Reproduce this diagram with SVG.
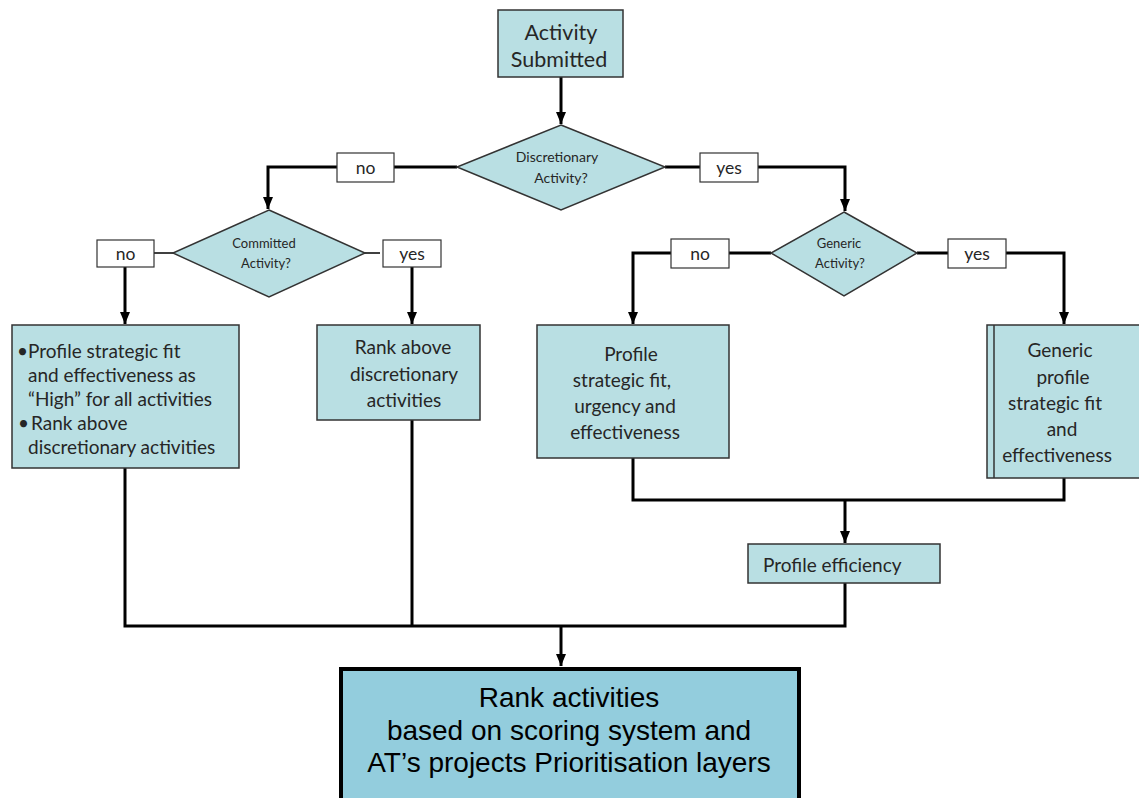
<svg xmlns="http://www.w3.org/2000/svg" width="1139" height="798" viewBox="0 0 1139 798">
<defs>
<marker id="arr" markerUnits="userSpaceOnUse" markerWidth="12" markerHeight="12" viewBox="0 0 12 12" refX="12" refY="6" orient="auto">
<path d="M0,1 L12,6 L0,11 Z" fill="#000"/>
</marker>
<style>
.node{fill:#B9DFE3;stroke:#333;stroke-width:1.5}
.lbl{fill:#fff;stroke:#333;stroke-width:1.2}
.t{font-family:Lato,"Open Sans",sans-serif;fill:#262626}
.c{text-anchor:middle}
.b{font-size:19px}
.l{font-size:17.5px}
.th{fill:none;stroke:#000;stroke-width:3}
.tn{fill:none;stroke:#000;stroke-width:1.5}
.f{font-family:"Liberation Sans",Arial,sans-serif;font-size:28px;text-anchor:middle;fill:#000}
</style>
</defs>
<rect width="1139" height="798" fill="#fff"/>
<g id="connectors">
<path class="th" d="M561,77 V124" marker-end="url(#arr)"/>
<path class="th" d="M457,167 H394"/>
<path class="th" d="M337,167 H268 V209" marker-end="url(#arr)"/>
<path class="th" d="M665,167 H700"/>
<path class="th" d="M758,167 H845 V211" marker-end="url(#arr)"/>
<path class="tn" d="M173,253 H154"/>
<path class="tn" d="M365,253 H380"/>
<path class="th" d="M125,266 V324" marker-end="url(#arr)"/>
<path class="th" d="M412,267 V324" marker-end="url(#arr)"/>
<path class="th" d="M771,253 H729"/>
<path class="th" d="M671,253 H633 V324" marker-end="url(#arr)"/>
<path class="th" d="M917,253 H948"/>
<path class="th" d="M1006,253 H1064 V324" marker-end="url(#arr)"/>
<path class="th" d="M633,458 V500 H1064 V478"/>
<path class="th" d="M845,500 V543" marker-end="url(#arr)"/>
<path class="th" d="M125,468 V626 H845 V583"/>
<path class="th" d="M412,420 V626"/>
<path class="th" d="M561,626 V666" marker-end="url(#arr)"/>
</g>
<g id="activity-submitted">
<rect class="node" x="498" y="10" width="125" height="67"/>
<text class="t c" x="561" y="40" font-size="21.5">Activity</text>
<text class="t c" x="559" y="67" font-size="21.5">Submitted</text>
</g>
<g id="discretionary">
<polygon class="node" points="561,125 665,167 561,210 457,167"/>
<text class="t c" x="557" y="162" font-size="14">Discretionary</text>
<text class="t c" x="561" y="183" font-size="14">Activity?</text>
</g>
<g id="label-no-1">
<rect class="lbl" x="337" y="153" width="57" height="29"/>
<text class="t c l" x="365.5" y="174">no</text>
</g>
<g id="label-yes-1">
<rect class="lbl" x="700" y="153" width="58" height="29"/>
<text class="t c l" x="729" y="174">yes</text>
</g>
<g id="committed">
<polygon class="node" points="269,210 365,253 269,297 173,253"/>
<text class="t c" x="264" y="248" font-size="13">Committed</text>
<text class="t c" x="266" y="268" font-size="13">Activity?</text>
</g>
<g id="label-no-2">
<rect class="lbl" x="97" y="240" width="57" height="27"/>
<text class="t c l" x="125.5" y="260">no</text>
</g>
<g id="label-yes-2">
<rect class="lbl" x="383" y="240" width="58" height="27"/>
<text class="t c l" x="412" y="260">yes</text>
</g>
<g id="generic">
<polygon class="node" points="844,212 917,253 844,296 771,253"/>
<text class="t c" x="839" y="248" font-size="13">Generic</text>
<text class="t c" x="840" y="268" font-size="13">Activity?</text>
</g>
<g id="label-no-3">
<rect class="lbl" x="671" y="239" width="58" height="29"/>
<text class="t c l" x="700" y="260">no</text>
</g>
<g id="label-yes-3">
<rect class="lbl" x="948" y="239" width="58" height="29"/>
<text class="t c l" x="977" y="260">yes</text>
</g>
<g id="committed-no-box">
<rect class="node" x="12" y="325" width="227" height="143"/>
<text class="t b" x="17" y="358">•</text>
<text class="t b" x="28" y="358">Profile strategic fit</text>
<text class="t b" x="28" y="382">and effectiveness as</text>
<text class="t b" x="28" y="406">“High” for all activities</text>
<text class="t b" x="18" y="430">•</text>
<text class="t b" x="31" y="430">Rank above</text>
<text class="t b" x="28" y="454">discretionary activities</text>
</g>
<g id="committed-yes-box">
<rect class="node" x="317" y="325" width="163" height="95"/>
<text class="t c b" x="403" y="354">Rank above</text>
<text class="t c b" x="404" y="381">discretionary</text>
<text class="t c b" x="404" y="407">activities</text>
</g>
<g id="generic-no-box">
<rect class="node" x="537" y="325" width="192" height="133"/>
<text class="t c b" x="631" y="361">Profile</text>
<text class="t c b" x="622" y="387">strategic fit,</text>
<text class="t c b" x="625" y="413">urgency and</text>
<text class="t c b" x="625" y="439">effectiveness</text>
</g>
<g id="generic-yes-box">
<rect class="node" x="987" y="325" width="160" height="153"/>
<line x1="994" y1="325" x2="994" y2="478" stroke="#333" stroke-width="1.5"/>
<text class="t c b" x="1060" y="357">Generic</text>
<text class="t c b" x="1063" y="384">profile</text>
<text class="t c b" x="1055" y="410">strategic fit</text>
<text class="t c b" x="1062" y="436">and</text>
<text class="t c b" x="1057" y="462">effectiveness</text>
</g>
<g id="profile-efficiency">
<rect class="node" x="748" y="544" width="192" height="39"/>
<text class="t b" x="763" y="572">Profile efficiency</text>
</g>
<g id="rank-activities">
<rect x="341" y="669" width="458" height="140" fill="#93CDDD" stroke="#000" stroke-width="4"/>
<text class="f" x="569" y="707">Rank activities</text>
<text class="f" x="569" y="740">based on scoring system and</text>
<text class="f" x="569" y="772">AT’s projects Prioritisation layers</text>
</g>
</svg>
